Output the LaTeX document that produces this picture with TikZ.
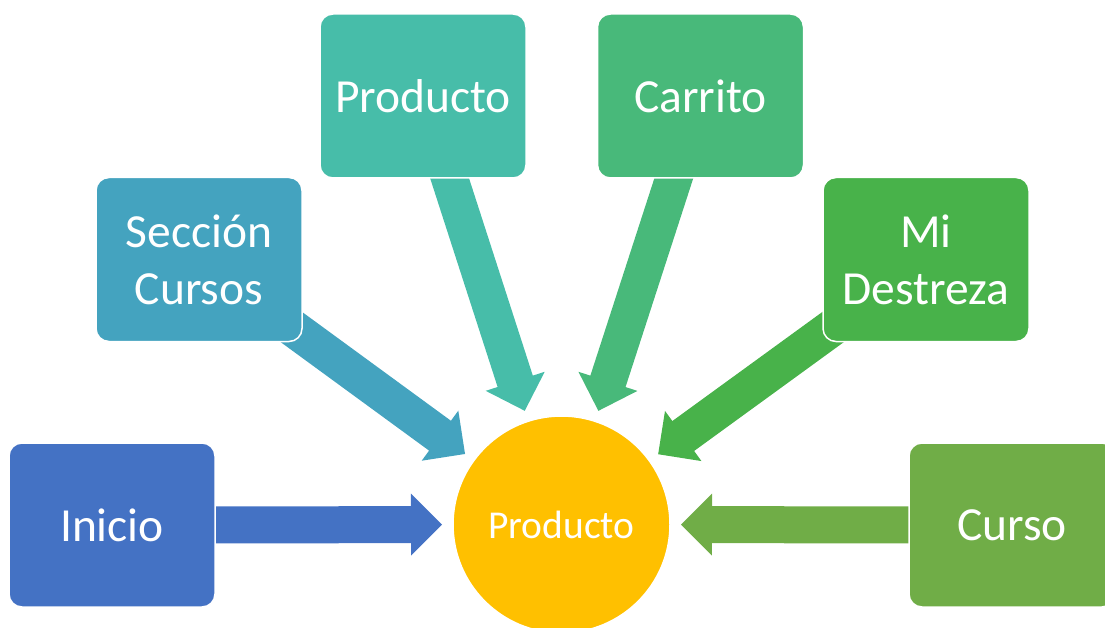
\documentclass[tikz,border=0pt]{standalone}
\usepackage{fontspec}
\setmainfont{Carlito}
\usetikzlibrary{calc,backgrounds}
\definecolor{cInicio}{HTML}{4472C4}
\definecolor{cSecc}{HTML}{44A3BF}
\definecolor{cProdTop}{HTML}{47BDA9}
\definecolor{cCarrito}{HTML}{48B97A}
\definecolor{cDestreza}{HTML}{48B24A}
\definecolor{cCurso}{HTML}{70AD47}
\definecolor{cCentro}{HTML}{FFC000}
% block arrow from the centre of node #2 towards node #3, colour #1
\newcommand{\blkarrow}[3]{%
  \coordinate (tip-#2) at ($(#3.center)!119.5pt!(#2.center)$);
  \coordinate (bk-#2) at ($(tip-#2)!31pt!(#2.center)$);
  \fill[#1]
    ($(#2.center)!18.5pt!90:(tip-#2)$) --
    ($(bk-#2)!18.5pt!90:(tip-#2)$) --
    ($(bk-#2)!31pt!90:(tip-#2)$) --
    (tip-#2) --
    ($(bk-#2)!31pt!-90:(tip-#2)$) --
    ($(bk-#2)!18.5pt!-90:(tip-#2)$) --
    ($(#2.center)!18.5pt!-90:(tip-#2)$) -- cycle;
}
\tikzset{
  box/.style={rectangle, rounded corners=13pt, minimum width=206pt,
    minimum height=164pt, inner sep=0pt, draw=white, line width=1.5pt,
    text=white, align=center, font=\fontsize{47.5}{57}\selectfont},
  hub/.style={circle, minimum size=217pt, inner sep=0pt, draw=white,
    line width=1.5pt, fill=cCentro, text=white,
    font=\fontsize{39.5}{47}\selectfont}
}
\begin{document}
\begin{tikzpicture}[x=1pt,y=-1pt]
\useasboundingbox (0,0) rectangle (1105,628);
\node[box, fill=cInicio]   (ini)   at (112,525)   {Inicio};
\node[box, fill=cSecc]     (secc)  at (199,259.5) {Sección\\Cursos};
\node[box, fill=cProdTop]  (ptop)  at (423,96)    {Producto};
\node[box, fill=cCarrito]  (carr)  at (700.5,96)  {Carrito};
\node[box, fill=cDestreza] (dest)  at (926,259.5) {Mi\\Destreza};
\node[box, fill=cCurso]    (curso) at (1012,525)  {Curso};
\node[hub] (prod) at (561.5,524.5) {Producto};
\begin{pgfonlayer}{background}
\blkarrow{cInicio}{ini}{prod}
\blkarrow{cSecc}{secc}{prod}
\blkarrow{cProdTop}{ptop}{prod}
\blkarrow{cCarrito}{carr}{prod}
\blkarrow{cDestreza}{dest}{prod}
\blkarrow{cCurso}{curso}{prod}
\end{pgfonlayer}
\end{tikzpicture}
\end{document}
